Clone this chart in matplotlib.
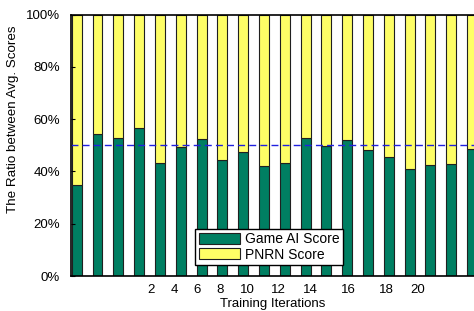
import numpy as np
import matplotlib
matplotlib.use("Agg")
import matplotlib.pyplot as plt

plt.rcParams['font.family'] = ['Liberation Sans', 'DejaVu Sans']

# share of the Game AI score per bar (PNRN takes the rest)
game_ai = [0.348, 0.542, 0.529, 0.566, 0.434, 0.495, 0.523, 0.444, 0.476, 0.420,
           0.431, 0.529, 0.497, 0.520, 0.482, 0.457, 0.409, 0.425, 0.429, 0.486]
tick_labels = ['2', '4', '6', '8', '10', '12', '14', '16', '18', '20']
tick_pos = [4.56, 5.69, 6.77, 7.89, 9.22, 10.69, 12.22, 14.06, 15.9, 17.39]

x = np.arange(1, len(game_ai) + 1)
game_ai = np.array(game_ai)
pnrn = 1 - game_ai

fig = plt.figure(figsize=(4.74, 3.11), dpi=100)
ax = fig.add_axes([0.1498, 0.1125, 0.8502, 0.8402])

ax.bar(x, game_ai, width=0.48, color='#007F62', edgecolor='#202020', linewidth=0.8,
       label='Game AI Score')
ax.bar(x, pnrn, width=0.48, bottom=game_ai, color='#FFFF66', edgecolor='#202020',
       linewidth=0.8, label='PNRN Score')
ax.axhline(0.5, color='#2020E0', linestyle=(0, (5, 3)), linewidth=1)

ax.set_xlim(0.726, 20.1)
ax.set_ylim(0, 1)
ax.set_yticks(np.arange(0, 1.01, 0.2))
ax.set_yticklabels(['%d%%' % v for v in range(0, 101, 20)], fontsize=9.5)
ax.set_xticks(tick_pos)
ax.set_xticklabels(tick_labels, fontsize=9.5)
ax.tick_params(axis='x', length=0, pad=6)
ax.tick_params(axis='y', direction='in', length=3, pad=8)
for s in ax.spines.values():
    s.set_linewidth(1.2)
ax.spines['right'].set_visible(False)

ax.set_xlabel('Training Iterations', fontsize=9.5, labelpad=1)
ax.set_ylabel('The Ratio between Avg. Scores', fontsize=9.6)
ax.yaxis.set_label_coords(-0.13, 0.60)

leg = ax.legend(loc='lower left', bbox_to_anchor=(0.308, 0.042), borderaxespad=0,
                fontsize=10, frameon=True, fancybox=False, edgecolor='black',
                handlelength=3.0, handleheight=0.8, borderpad=0.25, labelspacing=0.1,
                handletextpad=0.35, framealpha=1)
leg.get_frame().set_linewidth(1.0)

fig.savefig('out.png', dpi=100)
